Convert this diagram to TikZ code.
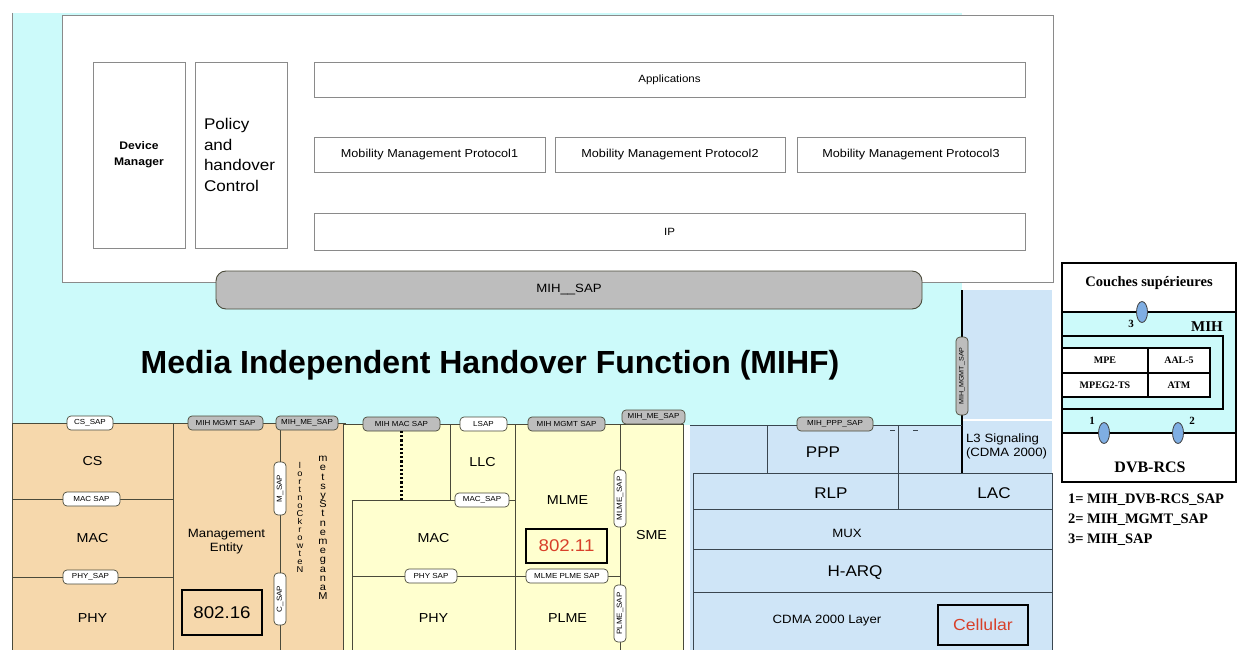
\documentclass[tikz,border=0pt]{standalone}
\usepackage{fontspec}
\usepackage{graphicx}
\setmainfont{Liberation Sans}[FakeStretch=1.1]
\newfontfamily\titlefont{Liberation Sans}
\newfontfamily\tms{Liberation Serif}
\usetikzlibrary{shapes.geometric}
\definecolor{mcyan}{HTML}{CCFAFA}
\definecolor{mtan}{HTML}{F6D8AC}
\definecolor{myel}{HTML}{FFFFCF}
\definecolor{mblue}{HTML}{CFE5F7}
\definecolor{mgrey}{HTML}{BDBDBD}
\definecolor{mline}{HTML}{4A4A3A}
\definecolor{cline}{HTML}{3A4650}
\definecolor{boxline}{HTML}{8A8A8A}
\definecolor{mred}{HTML}{D8402A}
\definecolor{mell}{HTML}{7FAEE3}
\newcommand\mybox[7][]{\node[#1, minimum width={#5-#3}, minimum height={#6-#4}] (#2) at ({(#3+#5)/2},{(#4+#6)/2}) {#7};}
\newcommand\vtxt[1]{\rotatebox{90}{#1}}
\begin{document}
\begin{tikzpicture}[x=1pt,y=-1pt, inner sep=0pt, outer sep=0pt,
 wbox/.style={draw=boxline, fill=white, line width=0.9pt},
 ttxt/.style={font=\fontsize{10.5}{12}\selectfont},
 mtxt/.style={font=\fontsize{11.5}{13}\selectfont},
 layer/.style={draw=mline, line width=0.9pt},
 clayer/.style={draw=cline, line width=0.8pt},
 gpill/.style={draw=mline, fill=mgrey, rounded corners=4pt, line width=0.7pt, font=\fontsize{7.3}{8}\selectfont},
 wpill/.style={gpill, fill=white},
 lbl/.style={font=\fontsize{13}{15}\selectfont},
 big/.style={font=\fontsize{15.5}{17}\selectfont},
 leg/.style={font=\tms\bfseries\fontsize{14.5}{16}\selectfont},
 tbl/.style={draw=black, line width=1.1pt, fill=white, font=\tms\bfseries\fontsize{10}{12}\selectfont},
 sapel/.style={ellipse, draw=black!75, fill=mell, line width=0.8pt, minimum width=11pt, minimum height=21pt},
 numl/.style={font=\tms\bfseries\fontsize{11}{12}\selectfont},
 thick2/.style={draw=black, line width=2pt}
]
\useasboundingbox (0,0) rectangle (1247,650);
\fill[white] (0,0) rectangle (1247,650);

% ---------- MIHF background ----------
\mybox[fill=mcyan]{mihf}{12}{13}{962}{425}{}
\draw[boxline, line width=0.8pt] (mihf.north west) -- (mihf.south west);
\mybox[fill=mblue]{l3top}{962}{290}{1052}{420}{}

% ---------- upper layers ----------
\mybox[wbox]{upper}{62}{15}{1053}{282}{}
\mybox[wbox, font=\bfseries\fontsize{11}{16}\selectfont, align=center]{dm}{93}{62}{185}{248}{Device\\Manager}
\mybox[wbox, font=\fontsize{15.5}{20.5}\selectfont, align=left, text width=74pt]{pol}{195}{62}{287}{248}{Policy\\and\\handover\\Control}
\mybox[wbox, ttxt]{apps}{314}{62}{1025}{97}{Applications}
\mybox[wbox, mtxt]{mmp1}{314}{137}{545}{172}{Mobility Management Protocol1}
\mybox[wbox, mtxt]{mmp2}{555}{137}{785}{172}{Mobility Management Protocol2}
\mybox[wbox, mtxt]{mmp3}{797}{137}{1025}{172}{Mobility Management Protocol3}
\mybox[wbox, ttxt]{ip}{314}{213}{1025}{250}{IP}
\mybox[gpill, rounded corners=10pt, line width=0.9pt, font=\fontsize{12}{14}\selectfont]{mihsap}{216}{271}{922}{309}{MIH\_\_SAP}
\node[font=\titlefont\bfseries\fontsize{32}{36}\selectfont] (title) at (490,365) {Media Independent Handover Function (MIHF)};

% ---------- 802.16 ----------
\mybox[fill=mtan, layer]{r16}{12}{423}{345}{660}{}
\mybox[layer, lbl]{cs}{12}{423}{173}{499}{CS}
\mybox[layer, lbl]{mac16}{12}{499}{173}{577}{MAC}
\mybox[layer, lbl]{phy16}{12}{577}{173}{660}{PHY}
\mybox[layer, font=\fontsize{12}{14}\selectfont, align=center]{me}{173}{423}{280}{660}{Management\\Entity}
\mybox[layer]{nms}{280}{423}{343}{660}{}
\mybox[draw=black, line width=1.6pt, font=\fontsize{17}{19}\selectfont]{b16}{182}{590}{262}{635}{802.16}
\node[font=\fontsize{8.5}{8}\selectfont, align=center] (nctl) at (300,517) {l\\o\\r\\t\\n\\o\\C\\k\\r\\o\\w\\t\\e\\N};
\node[font=\fontsize{10}{9.2}\selectfont, align=center] (msys) at (323,528) {m\\e\\t\\s\\y\\S\\t\\n\\e\\m\\e\\g\\a\\n\\a\\M};
\mybox[wpill]{cssap}{67}{416}{113}{430}{CS\_SAP}
\mybox[wpill]{macsap16}{63}{492}{120}{506}{MAC SAP}
\mybox[wpill]{physap16}{63}{570}{118}{584}{PHY\_SAP}
\mybox[gpill]{mgmt16}{188}{416}{263}{430}{MIH MGMT SAP}
\mybox[gpill]{me16}{276}{416}{338}{430}{MIH\_ME\_SAP}
\mybox[wpill]{msap16}{274}{462}{286}{515}{\vtxt{M\_SAP}}
\mybox[wpill]{csap16}{274}{573}{286}{625}{\vtxt{C\_SAP}}

% ---------- 802.11 ----------
\mybox[fill=myel, layer]{r11}{343}{424}{683}{660}{}
\mybox[layer, lbl]{llc}{450}{424}{515}{500}{LLC}
\mybox[layer, lbl]{mac11}{352}{500}{515}{576}{MAC}
\mybox[layer, lbl]{phy11}{352}{576}{515}{660}{PHY}
\mybox[layer, lbl]{mlme}{515}{424}{620}{576}{MLME}
\mybox[layer, lbl]{plme}{515}{576}{620}{660}{PLME}
\mybox[layer, lbl]{sme}{620}{424}{683}{660}{\raisebox{15pt}{SME}}
\mybox[draw=black, line width=1.6pt, fill=myel, font=\fontsize{17}{19}\selectfont, text=mred]{b11}{526}{529}{607}{563}{802.11}
\mybox[gpill]{mihmac}{363}{417}{440}{431}{MIH MAC SAP}
\draw[black, line width=2.2pt, dotted] (mihmac.south) -- (mihmac.south |- mac11.north);
\mybox[wpill]{lsap}{460}{417}{507}{431}{LSAP}
\mybox[wpill]{macsap11}{455}{493}{509}{507}{MAC\_SAP}
\mybox[gpill]{mgmt11}{528}{417}{605}{431}{MIH MGMT SAP}
\mybox[gpill]{me11}{622}{410}{685}{424}{MIH\_ME\_SAP}
\mybox[wpill]{physap11}{405}{569}{457}{583}{PHY SAP}
\mybox[wpill]{mpsap}{526}{569}{608}{583}{MLME PLME SAP}
\mybox[wpill]{mlmesap}{614}{470}{626}{527}{\vtxt{MLME\_SAP}}
\mybox[wpill]{plmesap}{614}{585}{626}{642}{\vtxt{PLME\_SAP}}

% ---------- Cellular ----------
\mybox[fill=mblue]{rcell}{690}{425}{1052}{660}{}
\mybox[fill=mblue, font=\fontsize{12}{14}\selectfont, align=left, text width=82pt]{l3}{962}{420}{1052}{473}{L3 Signaling\\(CDMA 2000)}
\draw[white, line width=1.5pt] (l3top.south west) -- (l3top.south east);
\draw[black, line width=1.2pt] (l3top.north west) -- (l3.south west);
\draw[cline, line width=0.8pt] (rcell.north west) -- (rcell.north west -| l3.west);
\mybox[clayer]{ppp}{767}{425}{898}{473}{}
\mybox[clayer]{rlp}{693}{473}{898}{509}{}
\mybox[clayer]{lac}{898}{473}{1052}{509}{}
\draw[cline, line width=0.8pt] ([yshift=-5pt]ppp.north east) -- (ppp.north east);
\mybox[clayer]{mux}{693}{509}{1052}{549}{}
\mybox[clayer]{harq}{693}{549}{1052}{592}{}
\mybox[clayer]{cdma}{693}{592}{1052}{660}{}
\node[big] (pppt) at (823,452) {PPP};
\node[big] (rlpt) at (831,493) {RLP};
\node[big] (lact) at (994,493) {LAC};
\node[font=\fontsize{12}{14}\selectfont] (muxt) at (847,533) {MUX};
\node[big] (harqt) at (855,573) {H-ARQ};
\node[font=\fontsize{12}{14}\selectfont] (cdmat) at (827,621) {CDMA 2000 Layer};
\mybox[draw=black, line width=1.6pt, font=\fontsize{16}{18}\selectfont, text=mred]{cell}{938}{605}{1028}{645}{Cellular}
\mybox[gpill]{ppsap}{797}{417}{873}{431}{MIH\_PPP\_SAP}
\draw[cline, line width=0.7pt] (890,430) -- (895,430) (913,430) -- (918,430);
\mybox[gpill, font=\fontsize{6.5}{7}\selectfont]{l3sap}{956}{337}{968}{415}{\vtxt{MIH\_MGMT\_SAP}}

% ---------- legend (DVB-RCS) ----------
\mybox[thick2, fill=white]{lg}{1062}{263}{1236}{482}{}
\mybox[thick2, fill=mcyan]{lgband}{1062}{312}{1236}{433}{}
\mybox[draw=black, line width=1.6pt]{lgmih}{1062}{336}{1223}{409}{}
\mybox[tbl]{mpe}{1062}{348}{1148}{373}{MPE}
\mybox[tbl]{aal}{1148}{348}{1210}{373}{AAL-5}
\mybox[tbl]{mpeg}{1062}{373}{1148}{397}{MPEG2-TS}
\mybox[tbl]{atm}{1148}{373}{1210}{397}{ATM}
\node[leg] (cs2) at (1149,283) {Couches supérieures};
\node[leg, font=\tms\bfseries\fontsize{15}{17}\selectfont] (mihl) at (1207,327) {MIH};
\node[leg, font=\tms\bfseries\fontsize{16}{18}\selectfont] (dvb) at (1150,467) {DVB-RCS};
\node[sapel] (e3) at (1142,312) {};
\node[sapel] (e1) at (1104,433) {};
\node[sapel] (e2) at (1178,433) {};
\node[numl] (n3) at (1131,324) {3};
\node[numl] (n1) at (1092,421) {1};
\node[numl] (n2) at (1192,421) {2};
\node[leg, anchor=west] (k1) at (1068,500) {1= MIH\_DVB-RCS\_SAP};
\node[leg, anchor=west] (k2) at (1068,520) {2= MIH\_MGMT\_SAP};
\node[leg, anchor=west] (k3) at (1068,540) {3= MIH\_SAP};
\end{tikzpicture}
\end{document}
